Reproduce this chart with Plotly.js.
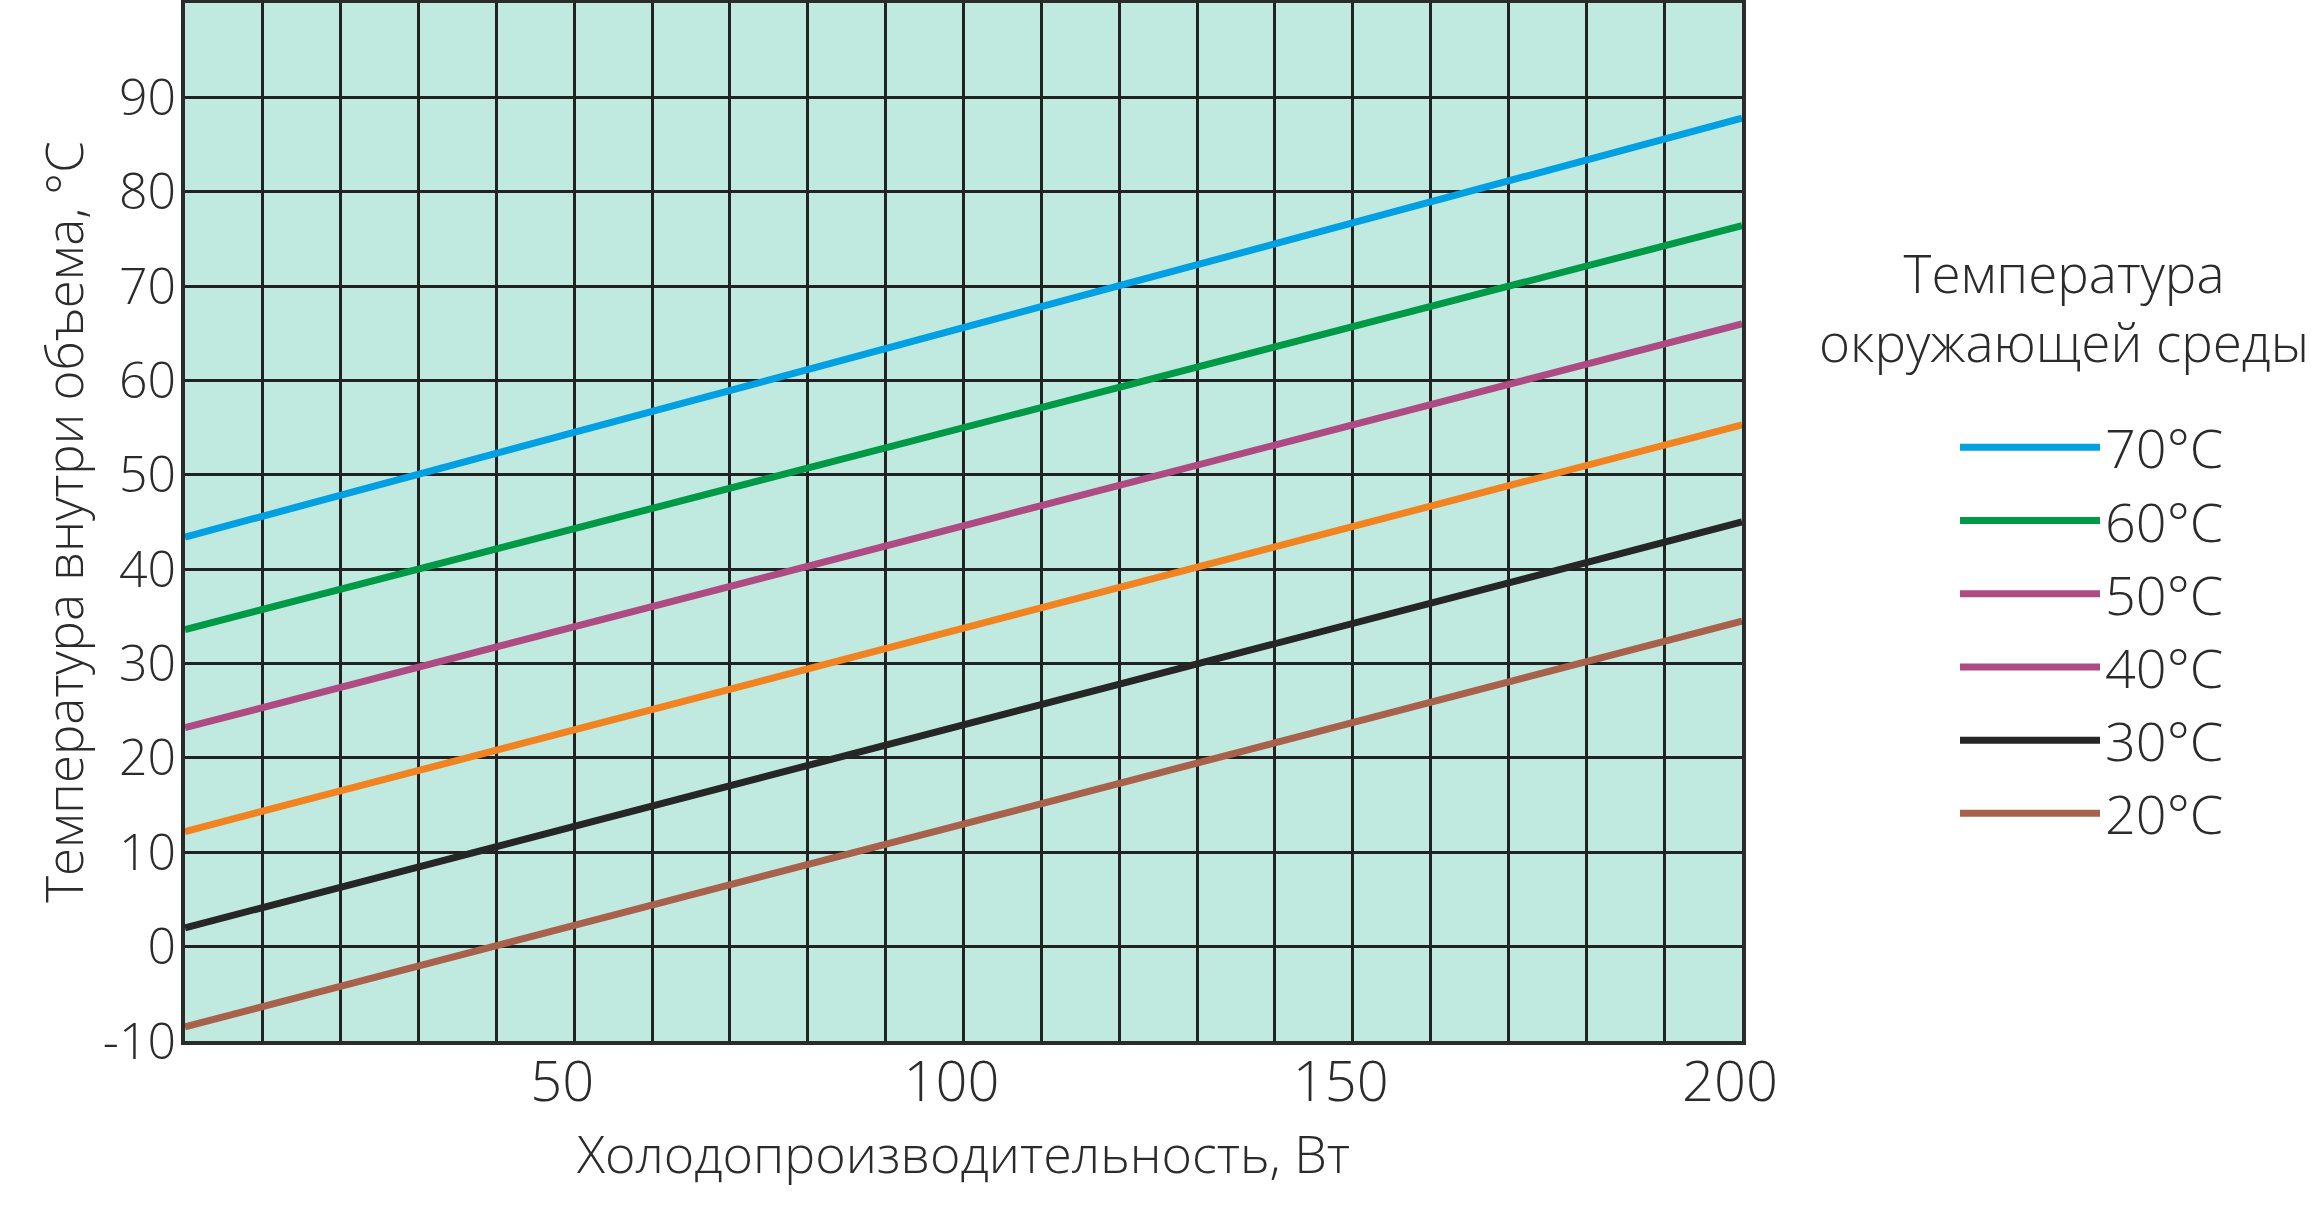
<!DOCTYPE html>
<html>
<head>
<meta charset="utf-8">
<script src="https://cdn.plot.ly/plotly-3.0.1.min.js"></script>
<style>
  html, body { margin: 0; padding: 0; background: #fff; }
  #chart { width: 2322px; height: 1213px; }
</style>
</head>
<body>
<div id="chart"></div>
<script>
// cooling capacity, W (ends of each straight line)
const capacity = [0, 200];

// temperature inside the enclosure, per ambient temperature
const inside70 = [43.4, 87.8];
const inside60 = [33.6, 76.4];
const inside50 = [23.2, 66.0];
const inside40 = [12.2, 55.3];
const inside30 = [2.0, 45.0];
const inside20 = [-8.5, 34.5];

const seriesNames = ['70°C', '60°C', '50°C', '40°C', '30°C', '20°C'];
const seriesValues = [inside70, inside60, inside50, inside40, inside30, inside20];
const lineColors = ['#00a0e3', '#009a46', '#ad4b82', '#f18320', '#262626', '#a8614a'];
// the legend swatch of 40°C is magenta in the original
const legendColors = ['#00a0e3', '#009a46', '#ad4b82', '#ad4b82', '#262626', '#a8614a'];

const xTickVals = [0, 10, 20, 30, 40, 50, 60, 70, 80, 90, 100, 110, 120, 130, 140, 150, 160, 170, 180, 190, 200];
const xTickText = ['', '', '', '', '', '50', '', '', '', '', '100', '', '', '', '', '150', '', '', '', '', '200'];
const yTickVals = [-10, 0, 10, 20, 30, 40, 50, 60, 70, 80, 90];
const yTickText = ['-10', '0', '10', '20', '30', '40', '50', '60', '70', '80', '90'];

const font = 'Open Sans, Noto Sans, sans-serif';
const ink = '#2b2b2b';

let data = [];
seriesNames.forEach((name, i) => {
    const sameSwatch = lineColors[i] === legendColors[i];
    data.push({
        x: capacity,
        y: seriesValues[i],
        mode: 'lines',
        type: 'scatter',
        name: name,
        showlegend: sameSwatch,
        line: {color: lineColors[i], width: 7},
        hoverinfo: 'skip'
    });
    if (!sameSwatch) {
        // legend-only entry, draws nothing in the plot
        data.push({
            x: [null],
            y: [null],
            mode: 'lines',
            type: 'scatter',
            name: name,
            line: {color: legendColors[i], width: 7},
            hoverinfo: 'skip'
        });
    }
});

const layout = {
    width: 2322,
    height: 1213,
    margin: {l: 185, r: 580, t: 3, b: 172},
    paper_bgcolor: '#ffffff',
    plot_bgcolor: '#c0e9e0',
    font: {family: font, color: ink, weight: 300},
    showlegend: true,
    xaxis: {
        range: [0, 200],
        tickvals: xTickVals,
        ticktext: xTickText,
        tickfont: {size: 56, family: font, color: ink, weight: 300},
        showgrid: true,
        gridcolor: '#222222',
        gridwidth: 3,
        zeroline: false,
        showline: true,
        linecolor: ink,
        linewidth: 4,
        mirror: true,
        ticks: '',
        ticklabelstandoff: -11,
        ticklabelshift: -12,
        title: {
            text: 'Холодопроизводительность, Вт',
            font: {size: 52, family: font, color: ink, weight: 300},
            standoff: 0
        }
    },
    yaxis: {
        range: [-10, 100],
        tickvals: yTickVals,
        ticktext: yTickText,
        tickfont: {size: 50, family: font, color: ink, weight: 300},
        showgrid: true,
        gridcolor: '#222222',
        gridwidth: 3,
        zeroline: false,
        showline: true,
        linecolor: ink,
        linewidth: 4,
        mirror: true,
        ticks: '',
        ticklabelstandoff: -5,
        title: {
            text: 'Температура внутри объема, °C',
            font: {size: 51, family: font, color: ink, weight: 300},
            standoff: 4
        }
    },
    legend: {
        x: 1.1368,
        xanchor: 'left',
        y: 0.612,
        yanchor: 'top',
        bgcolor: 'rgba(0,0,0,0)',
        font: {size: 54, family: font, color: ink, weight: 300},
        itemwidth: 140,
        tracegroupgap: 0,
        itemclick: false
    },
    annotations: [{
        text: 'Температура<br>окружающей среды',
        xref: 'paper',
        yref: 'paper',
        x: 1.207,
        y: 0.707,
        xanchor: 'center',
        yanchor: 'middle',
        showarrow: false,
        align: 'center',
        font: {size: 53, family: font, color: ink, weight: 300}
    }]
};

Plotly.newPlot('chart', data, layout, {displayModeBar: false, staticPlot: true});
</script>
</body>
</html>
